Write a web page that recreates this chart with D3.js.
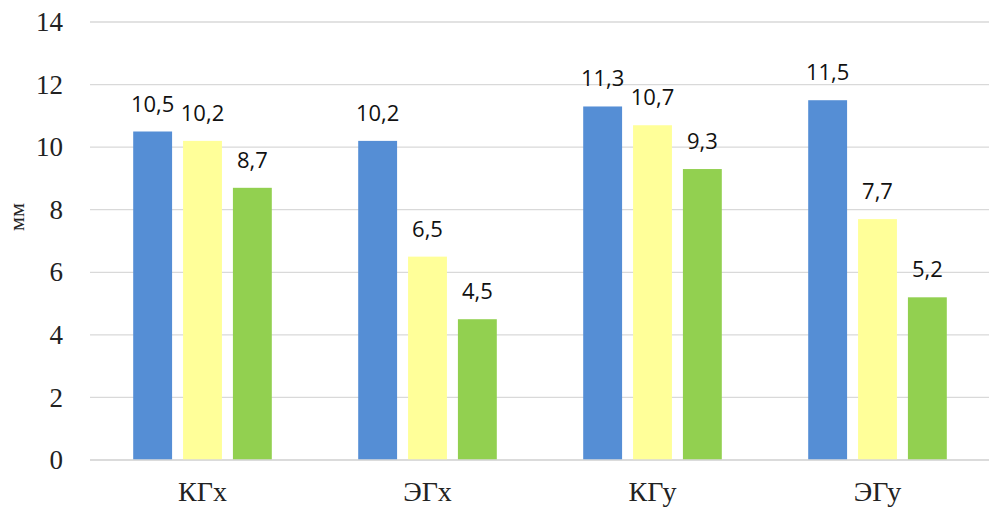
<!DOCTYPE html>
<html>
<head>
<meta charset="utf-8">
<script src="https://cdn.jsdelivr.net/npm/d3@7"></script>
<style>
  body { margin: 0; background: #fff; }
</style>
</head>
<body>
<div id="chart"></div>
<script>
const categories = ["КГх", "ЭГх", "КГу", "ЭГу"];
const seriesNames = ["s1", "s2", "s3"];
const series1 = [10.5, 10.2, 11.3, 11.5];
const series2 = [10.2, 6.5, 10.7, 7.7];
const series3 = [8.7, 4.5, 9.3, 5.2];
const yTicks = [0, 2, 4, 6, 8, 10, 12, 14];
const colors = ["#558ed5", "#ffff99", "#92d050"];

const width = 989, height = 508;
const margin = { top: 22, left: 90, bottom: 48, right: -1 };
const serif = "'Liberation Serif', 'Times New Roman', serif";

const allSeries = [series1, series2, series3];

const svg = d3.select("#chart").append("svg")
    .attr("width", width).attr("height", height);

const xScale = d3.scaleBand()
    .domain(categories)
    .range([margin.left, width - margin.right]);

const yScale = d3.scaleLinear()
    .domain([0, 14])
    .range([height - margin.bottom, margin.top]);

// inner band for the three bars in a group
const xInner = d3.scaleBand()
    .domain(seriesNames)
    .range([0, xScale.bandwidth() * 0.616])
    .paddingInner(0.22);

// gridlines
svg.append("g").selectAll("line")
    .data(yTicks)
    .join("line")
    .attr("x1", margin.left)
    .attr("x2", width)
    .attr("y1", d => yScale(d))
    .attr("y2", d => yScale(d))
    .attr("stroke", "#d9d9d9")
    .attr("stroke-width", 1.3);

// y axis labels
const yAxis = d3.axisLeft(yScale).tickValues(yTicks).tickSize(0).tickPadding(27);
svg.append("g")
    .attr("transform", `translate(${margin.left},0)`)
    .call(yAxis)
    .call(g => g.select(".domain").remove())
    .selectAll("text")
    .style("font-family", serif)
    .style("font-size", "27px")
    .attr("fill", "#222");

// y title
svg.append("text")
    .attr("transform", `translate(24,217) rotate(-90)`)
    .attr("text-anchor", "middle")
    .style("font-family", serif)
    .style("font-size", "22px")
    .attr("fill", "#222")
    .text("мм");

// bars
const groupOffset = (xScale.bandwidth() - xInner.range()[1]) / 2;
allSeries.forEach((vals, si) => {
    const g = svg.append("g");
    g.selectAll("rect")
        .data(vals)
        .join("rect")
        .attr("x", (d, i) => xScale(categories[i]) + groupOffset + xInner(seriesNames[si]))
        .attr("y", d => yScale(d))
        .attr("width", xInner.bandwidth())
        .attr("height", d => yScale(0) - yScale(d))
        .attr("fill", colors[si]);

    g.selectAll("text")
        .data(vals)
        .join("text")
        .attr("x", (d, i) => xScale(categories[i]) + groupOffset + xInner(seriesNames[si]) + xInner.bandwidth() / 2)
        .attr("y", d => yScale(d) - 20)
        .attr("text-anchor", "middle")
        .style("font-family", "'Open Sans', 'Liberation Sans', sans-serif")
        .style("font-size", "22px")
        .attr("fill", "#111")
        .text(d => String(d).replace(".", ","));
});

// x axis line
svg.append("line")
    .attr("x1", margin.left)
    .attr("x2", width)
    .attr("y1", yScale(0))
    .attr("y2", yScale(0))
    .attr("stroke", "#d9d9d9")
    .attr("stroke-width", 1.3);

// x axis labels
const xAxis = d3.axisBottom(xScale).tickSize(0).tickPadding(21);
svg.append("g")
    .attr("transform", `translate(0,${yScale(0)})`)
    .call(xAxis)
    .call(g => g.select(".domain").remove())
    .selectAll("text")
    .style("font-family", serif)
    .style("font-size", "28px")
    .attr("fill", "#222");
</script>
</body>
</html>
